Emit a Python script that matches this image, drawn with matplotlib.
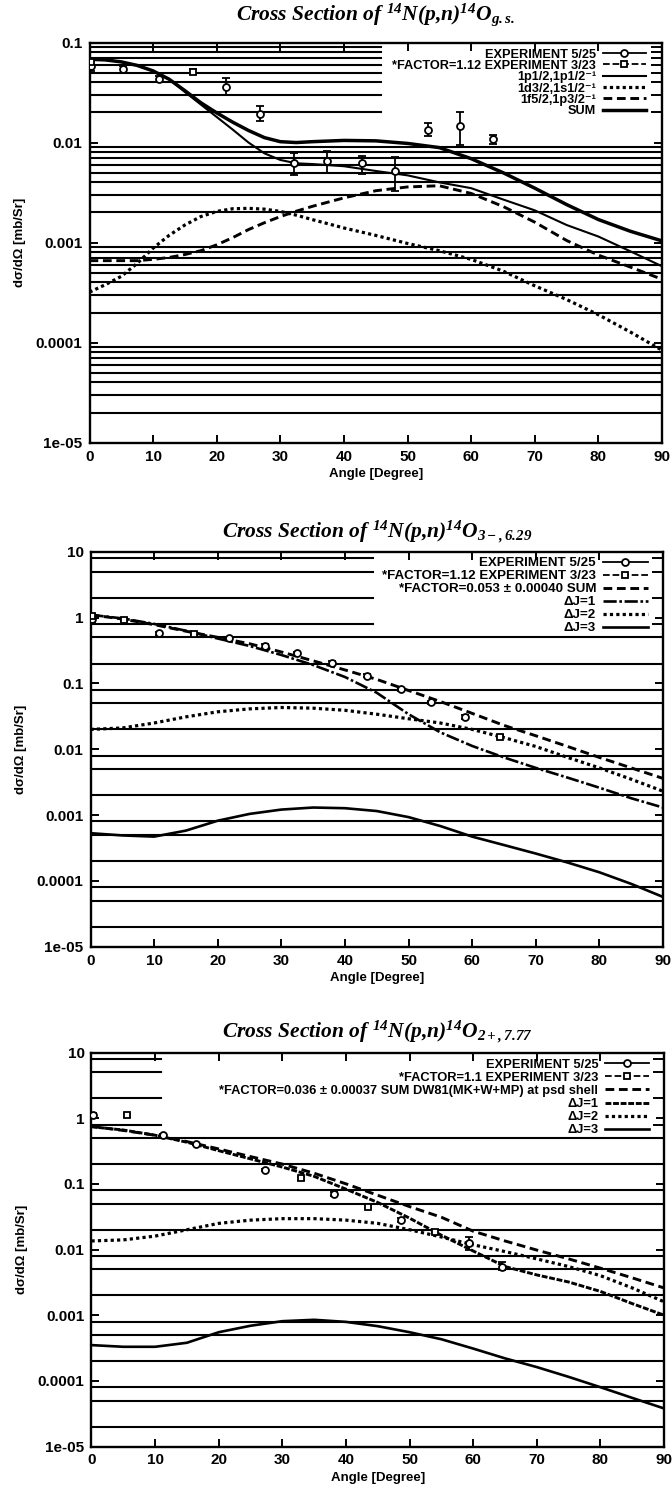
import matplotlib
matplotlib.use('Agg')
import matplotlib.pyplot as plt
from matplotlib.lines import Line2D
from matplotlib.ticker import FixedLocator, FixedFormatter, NullFormatter
import numpy as np

plt.rcParams['font.family'] = ['Liberation Sans Narrow', 'Liberation Sans', 'DejaVu Sans']
plt.rcParams['font.weight'] = 'bold'
plt.rcParams['mathtext.fontset'] = 'custom'
plt.rcParams['mathtext.rm'] = 'Liberation Serif:italic:bold'
plt.rcParams['mathtext.it'] = 'Liberation Serif:italic:bold'
plt.rcParams['mathtext.bf'] = 'Liberation Serif:italic:bold'

# ---- panel 1: ground state ----
p1_angle = [0, 2.5, 5, 7.5, 10, 12.5, 15, 17.5, 20, 22.5, 25, 27.5, 30, 32.5, 35,
            40, 45, 50, 55, 60, 65, 70, 75, 80, 85, 90]
p1_sum = [0.068, 0.067, 0.064, 0.059, 0.052, 0.043, 0.033, 0.025, 0.0198, 0.016, 0.0132,
          0.0112, 0.0102, 0.0100, 0.0102, 0.0105, 0.0104, 0.0098, 0.0089, 0.0069, 0.0050,
          0.0035, 0.0024, 0.0017, 0.0013, 0.00104]
p1_p12 = [0.068, 0.067, 0.064, 0.059, 0.052, 0.043, 0.032, 0.024, 0.018, 0.0135, 0.0100,
          0.0078, 0.0067, 0.0062, 0.0061, 0.0058, 0.0052, 0.0047, 0.0040, 0.0035, 0.0027,
          0.0021, 0.0015, 0.00115, 0.00082, 0.00058]
p1_d32 = [0.00032, 0.00038, 0.00046, 0.00062, 0.00088, 0.00118, 0.0015, 0.00182, 0.00205,
          0.00218, 0.0022, 0.00216, 0.00205, 0.00188, 0.0017, 0.0014, 0.00118, 0.00098,
          0.00083, 0.00068, 0.00052, 0.00037, 0.00027, 0.00019, 0.000128, 8.4e-5]
p1_f52 = [0.00066, 0.00066, 0.00066, 0.00066, 0.00068, 0.00071, 0.00076, 0.00083, 0.00095,
          0.00112, 0.00135, 0.00158, 0.00182, 0.00206, 0.0023, 0.0028, 0.0033, 0.0036,
          0.0037, 0.0031, 0.0023, 0.0016, 0.00105, 0.00075, 0.00057, 0.00043]

p1_exp_a = [0.3, 5.3, 10.9, 21.5, 26.8, 32.1, 37.4, 42.8, 48.0, 53.2, 58.3, 63.5]
p1_exp_v = [0.058, 0.054, 0.043, 0.036, 0.0194, 0.0063, 0.0065, 0.0062, 0.0052, 0.0135, 0.0148, 0.0108]
p1_exp_lo = [0.052, 0.050, 0.040, 0.030, 0.0164, 0.0047, 0.0050, 0.0048, 0.0033, 0.0116, 0.0094, 0.0097]
p1_exp_hi = [0.066, 0.058, 0.046, 0.044, 0.0231, 0.0079, 0.0082, 0.0073, 0.0071, 0.0158, 0.0201, 0.0119]
p1_old_a = [0.3, 16.2]
p1_old_v = [0.064, 0.051]
p1_old_lo = [0.060, 0.048]
p1_old_hi = [0.068, 0.054]

# ---- panels 2 and 3: excited states ----
ang5 = [0, 5, 10, 15, 20, 25, 30, 35, 40, 45, 50, 55, 60, 65, 70, 75, 80, 85, 90]

p2_sum = [1.1, 0.95, 0.78, 0.62, 0.5, 0.4, 0.3, 0.22, 0.16, 0.115, 0.078, 0.053, 0.035,
          0.023, 0.016, 0.011, 0.0075, 0.0052, 0.0036]
p2_dj1 = [1.1, 0.97, 0.8, 0.63, 0.48, 0.37, 0.27, 0.19, 0.125, 0.072, 0.034, 0.018, 0.0112,
          0.0075, 0.0052, 0.0037, 0.0026, 0.0018, 0.0013]
p2_dj2 = [0.02, 0.021, 0.025, 0.031, 0.037, 0.041, 0.043, 0.042, 0.039, 0.034, 0.029, 0.025,
          0.02, 0.015, 0.011, 0.0075, 0.0052, 0.0035, 0.0023]
p2_dj3 = [0.00053, 0.00049, 0.00047, 0.00058, 0.00082, 0.00104, 0.00121, 0.0013, 0.00127,
          0.00115, 0.00093, 0.00068, 0.00047, 0.00035, 0.00026, 0.00019, 0.000135, 9e-5, 5.7e-5]
p2_exp_a = [0.3, 10.8, 21.7, 27.4, 32.5, 37.9, 43.4, 48.8, 53.5, 58.9]
p2_exp_v = [0.95, 0.575, 0.49, 0.37, 0.286, 0.206, 0.131, 0.081, 0.0515, 0.031]
p2_exp_lo = [0.86, 0.55, 0.47, 0.35, 0.27, 0.195, 0.124, 0.077, 0.049, 0.029]
p2_exp_hi = [1.04, 0.60, 0.51, 0.39, 0.30, 0.217, 0.138, 0.085, 0.054, 0.033]
p2_old_a = [0.3, 5.3, 16.3, 64.4]
p2_old_v = [1.05, 0.93, 0.56, 0.0155]
p2_old_lo = [0.98, 0.89, 0.54, 0.0148]
p2_old_hi = [1.12, 0.97, 0.58, 0.0162]

p3_sum = [0.75, 0.65, 0.55, 0.44, 0.34, 0.26, 0.2, 0.145, 0.1, 0.067, 0.045, 0.031, 0.019,
          0.0135, 0.0098, 0.0072, 0.0052, 0.0037, 0.0026]
p3_dj1 = [0.74, 0.66, 0.55, 0.43, 0.32, 0.24, 0.18, 0.13, 0.083, 0.052, 0.03, 0.0165, 0.0095,
          0.0055, 0.0041, 0.0032, 0.0023, 0.0015, 0.001]
p3_dj2 = [0.0135, 0.014, 0.016, 0.02, 0.025, 0.028, 0.0295, 0.0295, 0.028, 0.025, 0.02,
          0.0155, 0.0118, 0.0093, 0.0072, 0.0055, 0.004, 0.0026, 0.0016]
p3_dj3 = [0.00035, 0.00033, 0.00033, 0.00038, 0.00055, 0.00069, 0.00081, 0.00085, 0.00079,
          0.00068, 0.00055, 0.00043, 0.00031, 0.00022, 0.000162, 0.000115, 8e-5, 5.5e-5, 3.8e-5]
p3_exp_a = [0.3, 11.2, 16.4, 27.3, 38.1, 48.6, 59.3, 64.5]
p3_exp_v = [1.12, 0.555, 0.405, 0.163, 0.07, 0.028, 0.0125, 0.0055]
p3_exp_lo = [1.06, 0.53, 0.385, 0.155, 0.066, 0.026, 0.0098, 0.0048]
p3_exp_hi = [1.18, 0.58, 0.425, 0.171, 0.074, 0.030, 0.0157, 0.0064]
p3_old_a = [5.6, 33.0, 43.5, 54.0]
p3_old_v = [1.1, 0.122, 0.045, 0.0187]
p3_old_lo = [1.05, 0.116, 0.043, 0.0178]
p3_old_hi = [1.15, 0.128, 0.047, 0.0196]

x_ticks = [0, 10, 20, 30, 40, 50, 60, 70, 80, 90]
y_ticks_gs = [1e-5, 1e-4, 1e-3, 1e-2, 1e-1]
y_labels_gs = ['1e-05', '0.0001', '0.001', '0.01', '0.1']
y_ticks_ex = [1e-5, 1e-4, 1e-3, 1e-2, 1e-1, 1, 10]
y_labels_ex = ['1e-05', '0.0001', '0.001', '0.01', '0.1', '1', '10']
subs_gs = [2, 3, 4, 5, 6, 7, 8, 9]
subs_ex = [2, 5, 8]

W, H = 672, 1490
fig = plt.figure(figsize=(W / 100, H / 100), dpi=100)

TITLE_FONT = dict(family=['Liberation Serif', 'DejaVu Serif'], style='italic',
                  weight='bold', size=15.5)
DOTTED = (0, (1, 1))
DASHED = (0, (3, 1.6))
DASHDOT = (0, (5, 1, 1, 1))


def make_axes(left_px, top_px, bottom_px):
    rect = [left_px / W, 1 - bottom_px / H, 572.5 / W, (bottom_px - top_px) / H]
    return fig.add_axes(rect)


def setup(ax, ymin, ymax, yticks, ylabels, subs, cut_from, cut_at, title, title_off):
    ax.set_yscale('log')
    ax.set_xlim(0, 90)
    ax.set_ylim(ymin, ymax)
    ax.xaxis.set_major_locator(FixedLocator(x_ticks))
    ax.xaxis.set_major_formatter(FixedFormatter([str(t) for t in x_ticks]))
    ax.yaxis.set_major_locator(FixedLocator(yticks))
    ax.yaxis.set_major_formatter(FixedFormatter(ylabels))
    levels = []
    for d in range(int(np.log10(ymin)), int(np.log10(ymax))):
        for s in subs:
            levels.append(s * 10.0 ** d)
    ax.yaxis.set_minor_locator(FixedLocator(levels))
    ax.yaxis.set_minor_formatter(NullFormatter())
    ax.xaxis.set_minor_locator(FixedLocator([]))
    ax.tick_params(which='both', direction='in', top=True, right=True, width=1.4)
    ax.tick_params(which='major', length=6, labelsize=11, pad=5)
    ax.tick_params(which='minor', length=8)
    for lab in ax.get_xticklabels() + ax.get_yticklabels():
        lab.set_fontweight('bold')
    for sp in ax.spines.values():
        sp.set_linewidth(1.7)
    # minor-tick rules across the frame, stopped short under the key
    for lv in levels:
        xmax = cut_at if lv >= cut_from else 1.0
        ax.axhline(lv, xmin=0, xmax=xmax, color='k', lw=1.5, zorder=1)
    ax.set_xlabel('Angle [Degree]', fontsize=9.5, fontweight='bold')
    ax.set_ylabel('d\u03c3/d\u03a9 [mb/Sr]', fontsize=9.5, fontweight='bold')
    h = ax.get_position().height * H
    ax.xaxis.set_label_coords(0.5, -25 / h)
    ax.yaxis.set_label_coords(-63 / 572.5, 0.5)
    ax.text(0.5, 1 + title_off / h, title, transform=ax.transAxes, ha='center',
            va='center', **TITLE_FONT)


def experiments(ax, a, v, lo, hi, marker, ls):
    v = np.array(v)
    yerr = [v - np.array(lo), np.array(hi) - v]
    eb = ax.errorbar(a, v, yerr=yerr, fmt=marker, ms=5, mfc='white', mec='k', mew=1.3,
                     ecolor='k', elinewidth=1.3, capsize=3, capthick=1.3, zorder=5)
    for bar in eb[2]:
        bar.set_linestyle(ls)
    return Line2D([], [], color='k', lw=1.3, ls=ls, marker=marker, ms=5, mfc='white', mew=1.3)


def key(ax, handles, labels, anchor, size, spacing):
    ax.legend(handles, labels, loc='upper right', bbox_to_anchor=anchor, frameon=False,
              markerfirst=False, handlelength=3.4, handletextpad=0.5,
              labelspacing=spacing, borderpad=0, borderaxespad=0,
              prop=dict(weight='bold', size=size))


# ---------------- panel 1 ----------------
ax1 = make_axes(89.5, 42.5, 442.7)
setup(ax1, 1e-5, 0.1, y_ticks_gs, y_labels_gs, subs_gs, 0.015, 0.509,
      r'Cross Section of $^{14}$N(p,n)$^{14}$O$_{g.s.}$', 27.5)
h_a = experiments(ax1, p1_exp_a, p1_exp_v, p1_exp_lo, p1_exp_hi, 'o', '-')
h_b = experiments(ax1, p1_old_a, p1_old_v, p1_old_lo, p1_old_hi, 's', '--')
l1, = ax1.plot(p1_angle, p1_p12, color='k', lw=1.5, zorder=3)
l2, = ax1.plot(p1_angle, p1_d32, color='k', lw=2.3, ls=DOTTED, zorder=3)
l3, = ax1.plot(p1_angle, p1_f52, color='k', lw=2.1, ls=DASHED, zorder=3)
l4, = ax1.plot(p1_angle, p1_sum, color='k', lw=2.5, zorder=3)
key(ax1, [h_a, h_b, l1, l2, l3, l4],
    ['EXPERIMENT 5/25', '*FACTOR=1.12 EXPERIMENT 3/23',
     '1p1/2,1p1/2\u207b\u00b9', '1d3/2,1s1/2\u207b\u00b9', '1f5/2,1p3/2\u207b\u00b9', 'SUM'],
    (0.972, 0.985), 9.2, -0.05)

# ---------------- panel 2 ----------------
ax2 = make_axes(90.5, 551.7, 946.7)
setup(ax2, 1e-5, 10, y_ticks_ex, y_labels_ex, subs_ex, 0.7, 0.493,
      r'Cross Section of $^{14}$N(p,n)$^{14}$O$_{3-,6.29}$', 20)
h_a = experiments(ax2, p2_exp_a, p2_exp_v, p2_exp_lo, p2_exp_hi, 'o', '-')
h_b = experiments(ax2, p2_old_a, p2_old_v, p2_old_lo, p2_old_hi, 's', '--')
s2, = ax2.plot(ang5, p2_sum, color='k', lw=2.1, ls=DASHED, zorder=3)
a2, = ax2.plot(ang5, p2_dj1, color='k', lw=1.9, ls=DASHDOT, zorder=3)
b2, = ax2.plot(ang5, p2_dj2, color='k', lw=2.3, ls=DOTTED, zorder=3)
c2, = ax2.plot(ang5, p2_dj3, color='k', lw=1.9, zorder=3)
key(ax2, [h_a, h_b, s2, a2, b2, c2],
    ['EXPERIMENT 5/25', '*FACTOR=1.12 EXPERIMENT 3/23',
     '*FACTOR=0.053 \u00b1 0.00040 SUM', '\u0394J=1', '\u0394J=2', '\u0394J=3'],
    (0.974, 0.987), 9.6, 0.05)

# ---------------- panel 3 ----------------
ax3 = make_axes(91.5, 1052.5, 1446.5)
setup(ax3, 1e-5, 10, y_ticks_ex, y_labels_ex, subs_ex, 0.7, 0.122,
      r'Cross Section of $^{14}$N(p,n)$^{14}$O$_{2+,7.77}$', 21)
h_a = experiments(ax3, p3_exp_a, p3_exp_v, p3_exp_lo, p3_exp_hi, 'o', '-')
h_b = experiments(ax3, p3_old_a, p3_old_v, p3_old_lo, p3_old_hi, 's', '--')
s3, = ax3.plot(ang5, p3_sum, color='k', lw=2.1, ls=DASHED, zorder=3)
a3, = ax3.plot(ang5, p3_dj1, color='k', lw=2.1, ls=(0, (2, 0.6)), zorder=3)
b3, = ax3.plot(ang5, p3_dj2, color='k', lw=2.3, ls=DOTTED, zorder=3)
c3, = ax3.plot(ang5, p3_dj3, color='k', lw=1.9, zorder=3)
key(ax3, [h_a, h_b, s3, a3, b3, c3],
    ['EXPERIMENT 5/25', '*FACTOR=1.1 EXPERIMENT 3/23',
     '*FACTOR=0.036 \u00b1 0.00037 SUM DW81(MK+W+MP) at psd shell',
     '\u0394J=1', '\u0394J=2', '\u0394J=3'],
    (0.973, 0.984), 9.3, 0.08)

fig.savefig('out.png', dpi=100)
